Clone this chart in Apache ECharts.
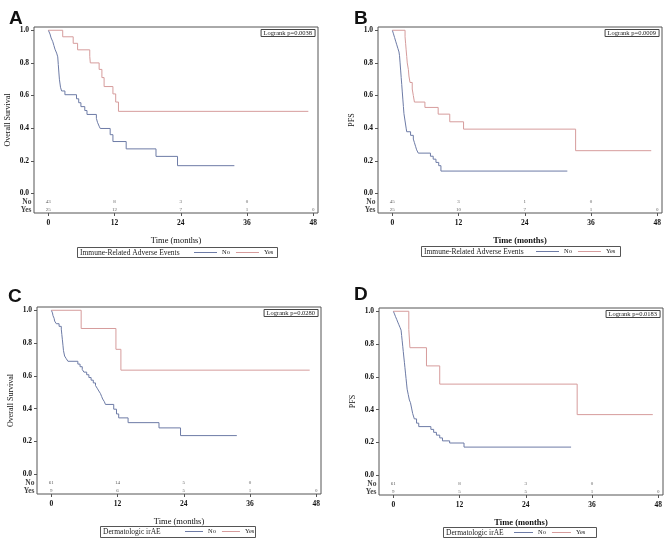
<!DOCTYPE html>
<html>
<head>
<meta charset="utf-8">
<script src="https://cdn.jsdelivr.net/npm/echarts@6/dist/echarts.min.js"></script>
<style>
  html, body { margin: 0; padding: 0; background: #fff; }
  #main { width: 666px; height: 540px; }
</style>
</head>
<body>
<div id="main"></div>
<script>
// KM curves: [months, survival]
var osIrae_no = [[0,1],[0.3,0.977],[0.5,0.953],[0.8,0.93],[1.0,0.907],[1.2,0.884],[1.5,0.86],[1.7,0.837],[1.8,0.79],[1.9,0.744],[2.0,0.70],[2.2,0.651],[2.4,0.628],[3.0,0.605],[5.1,0.58],[5.5,0.556],[5.9,0.532],[6.6,0.508],[7.0,0.484],[8.7,0.46],[8.9,0.436],[9.2,0.412],[9.4,0.398],[11.2,0.36],[11.7,0.318],[14.1,0.273],[19.5,0.227],[23.4,0.17],[33.7,0.17]];
var osIrae_yes = [[0,1],[2.6,0.96],[4.5,0.92],[5.3,0.88],[7.5,0.84],[7.6,0.80],[9.2,0.76],[9.7,0.71],[10.1,0.655],[11.7,0.61],[12.2,0.56],[12.7,0.503],[47.1,0.503]];
var pfsIrae_no = [[0,1],[0.2,0.978],[0.4,0.956],[0.6,0.933],[0.8,0.911],[1.0,0.889],[1.2,0.867],[1.3,0.844],[1.4,0.80],[1.5,0.756],[1.6,0.711],[1.7,0.667],[1.8,0.622],[1.9,0.578],[2.0,0.533],[2.1,0.489],[2.3,0.444],[2.5,0.40],[2.6,0.378],[3.3,0.356],[3.8,0.333],[4.0,0.311],[4.2,0.289],[4.4,0.267],[4.7,0.247],[6.9,0.228],[7.4,0.21],[7.9,0.19],[8.4,0.17],[8.8,0.137],[31.7,0.137]];
var pfsIrae_yes = [[0,1],[2.3,0.96],[2.4,0.92],[2.5,0.88],[2.6,0.84],[2.7,0.80],[2.9,0.76],[3.0,0.72],[3.2,0.68],[3.6,0.64],[3.8,0.60],[4.0,0.56],[5.9,0.527],[8.3,0.486],[10.4,0.439],[12.9,0.394],[33.2,0.262],[46.9,0.262]];
var osDerm_no = [[0,1],[0.2,0.984],[0.3,0.967],[0.5,0.951],[0.6,0.934],[0.9,0.918],[1.4,0.902],[1.8,0.885],[1.9,0.852],[2.0,0.82],[2.1,0.787],[2.2,0.754],[2.4,0.721],[2.7,0.705],[3.0,0.689],[4.8,0.672],[5.2,0.656],[5.6,0.639],[5.9,0.623],[6.4,0.607],[6.8,0.59],[7.2,0.574],[7.6,0.557],[8.0,0.541],[8.3,0.525],[8.6,0.508],[8.9,0.492],[9.1,0.475],[9.3,0.459],[9.6,0.443],[9.8,0.426],[11.3,0.397],[11.8,0.368],[12.2,0.344],[13.9,0.315],[19.5,0.283],[23.4,0.236],[33.6,0.236]];
var osDerm_yes = [[0,1],[5.4,0.889],[11.7,0.762],[12.6,0.635],[46.8,0.635]];
var pfsDerm_no = [[0,1],[0.2,0.984],[0.4,0.967],[0.6,0.951],[0.8,0.934],[1.0,0.918],[1.2,0.902],[1.4,0.885],[1.5,0.852],[1.6,0.82],[1.7,0.787],[1.8,0.754],[1.9,0.721],[2.0,0.689],[2.1,0.656],[2.2,0.623],[2.3,0.59],[2.4,0.557],[2.5,0.525],[2.7,0.492],[2.9,0.459],[3.1,0.443],[3.3,0.41],[3.5,0.377],[3.8,0.344],[4.2,0.318],[4.6,0.297],[6.8,0.28],[7.3,0.262],[7.8,0.245],[8.4,0.228],[8.9,0.21],[10.2,0.197],[12.8,0.172],[32.2,0.172]];
var pfsDerm_yes = [[0,1],[2.8,0.889],[3.0,0.778],[6.0,0.667],[8.4,0.556],[33.3,0.37],[47.0,0.37]];

// numbers at risk
var riskTimes = [0, 12, 24, 36, 48];
var riskA_no = [43, 8, 3, 0];
var riskA_yes = [25, 12, 7, 1, 0];
var riskB_no = [45, 3, 1, 0];
var riskB_yes = [25, 10, 7, 1, 0];
var riskC_no = [61, 14, 5, 0];
var riskC_yes = [9, 6, 5, 1, 0];
var riskD_no = [61, 8, 3, 0];
var riskD_yes = [9, 5, 5, 1, 0];

var xTicks = [0, 12, 24, 36, 48];
var yTicks = [0, 0.2, 0.4, 0.6, 0.8, 1.0];
var rowNo = -0.053, rowYes = -0.1;

var colorNo = '#6d7ba6';
var colorYes = '#d69c9c';
var serif = '"Liberation Serif", "DejaVu Serif", serif';

var panels = [
  { letter: 'A', yName: 'Overall Survival', p: 'Logrank p=0.0038', group: 'Immune-Related Adverse Events',
    no: osIrae_no, yes: osIrae_yes, rNo: riskA_no, rYes: riskA_yes, boldX: false,
    grid: [34, 27, 284, 186], letterPos: [9, 9], legBox: [77, 247, 200, 10], legLeft: 194, legItem: 23 },
  { letter: 'B', yName: 'PFS', p: 'Logrank p=0.0009', group: 'Immune-Related Adverse Events',
    no: pfsIrae_no, yes: pfsIrae_yes, rNo: riskB_no, rYes: riskB_yes, boldX: true,
    grid: [378, 27, 284, 186], letterPos: [354, 9], legBox: [421, 246, 199, 10], legLeft: 536, legItem: 23 },
  { letter: 'C', yName: 'Overall Survival', p: 'Logrank p=0.0280', group: 'Dermatologic irAE',
    no: osDerm_no, yes: osDerm_yes, rNo: riskC_no, rYes: riskC_yes, boldX: false,
    grid: [37, 307, 284, 187], letterPos: [8, 287], legBox: [100, 526, 155, 11], legLeft: 185, legItem: 18 },
  { letter: 'D', yName: 'PFS', p: 'Logrank p=0.0183', group: 'Dermatologic irAE',
    no: pfsDerm_no, yes: pfsDerm_yes, rNo: riskD_no, rYes: riskD_yes, boldX: true,
    grid: [379, 308, 284, 187], letterPos: [354, 285], legBox: [443, 527, 153, 10], legLeft: 514, legItem: 19 }
];

var grids = [], xAxes = [], yAxes = [], series = [], titles = [], legends = [], graphics = [];

panels.forEach(function (pn, i) {
  var g = pn.grid;
  grids.push({ left: g[0], top: g[1], width: g[2], height: g[3], show: true,
    borderColor: '#555', borderWidth: 1, backgroundColor: 'transparent' });

  xAxes.push({
    gridIndex: i, type: 'value', min: -2.6, max: 48.85,
    name: 'Time (months)', nameLocation: 'middle', nameGap: 23,
    nameTextStyle: { fontFamily: serif, fontSize: 8.5, fontWeight: pn.boldX ? 'bold' : 'normal', color: '#111' },
    axisLine: { show: false, onZero: false },
    axisTick: { show: true, length: 3, customValues: xTicks, lineStyle: { color: '#555' } },
    axisLabel: { customValues: xTicks, margin: 6, fontFamily: serif, fontSize: 7.5, fontWeight: 'bold', color: '#111' },
    splitLine: { show: false }
  });

  yAxes.push({
    gridIndex: i, type: 'value', min: -0.12, max: 1.02,
    name: pn.yName, nameLocation: 'middle', nameGap: 22,
    nameTextStyle: { fontFamily: serif, fontSize: 8, color: '#111' },
    axisLine: { show: false, onZero: false },
    axisTick: { show: true, length: 3, customValues: yTicks, lineStyle: { color: '#555' } },
    axisLabel: {
      customValues: yTicks, margin: 5,
      fontFamily: serif, fontSize: 7.5, fontWeight: 'bold', color: '#111',
      formatter: function (v) { return v.toFixed(1); }
    },
    splitLine: { show: false }
  });

  series.push({
    name: 'No', type: 'line', xAxisIndex: i, yAxisIndex: i, data: pn.no,
    step: 'end', symbol: 'none', lineStyle: { color: colorNo, width: 1 }, itemStyle: { color: colorNo },
    silent: true, animation: false
  });
  series.push({
    name: 'Yes', type: 'line', xAxisIndex: i, yAxisIndex: i, data: pn.yes,
    step: 'end', symbol: 'none', lineStyle: { color: colorYes, width: 1 }, itemStyle: { color: colorYes },
    silent: true, animation: false
  });

  // numbers at risk rows
  var riskData = [];
  pn.rNo.forEach(function (n, k) { riskData.push([riskTimes[k], rowNo, n]); });
  pn.rYes.forEach(function (n, k) { riskData.push([riskTimes[k], rowYes, n]); });
  series.push({
    type: 'scatter', xAxisIndex: i, yAxisIndex: i, data: riskData,
    symbolSize: 1, itemStyle: { color: 'transparent' }, silent: true, animation: false,
    label: { show: true, position: 'inside', fontFamily: serif, fontSize: 5, color: '#333',
      formatter: function (d) { return String(d.value[2]); } }
  });
  // row labels for the at-risk table, left of the frame
  series.push({
    type: 'scatter', xAxisIndex: i, yAxisIndex: i, data: [[-2.6, rowNo, 'No'], [-2.6, rowYes, 'Yes']],
    symbolSize: 1, itemStyle: { color: 'transparent' }, silent: true, animation: false, clip: false,
    label: { show: true, position: 'left', distance: 2, fontFamily: serif, fontSize: 7.5, fontWeight: 'bold', color: '#111',
      formatter: function (d) { return d.value[2]; } }
  });

  titles.push({ text: pn.letter, left: pn.letterPos[0], top: pn.letterPos[1], padding: 0,
    textStyle: { fontFamily: 'Liberation Sans, Arial, sans-serif', fontSize: 19, fontWeight: 'bold', color: '#111' } });
  titles.push({ text: pn.p, right: 666 - (g[0] + g[2]) + 3, top: g[1] + 2, padding: [1, 3, 0, 3],
    borderColor: '#444', borderWidth: 1,
    textStyle: { fontFamily: serif, fontSize: 6.5, fontWeight: 'normal', color: '#222' } });

  var lb = pn.legBox;
  graphics.push({ type: 'rect', shape: { x: lb[0] + 0.5, y: lb[1] + 0.5, width: lb[2], height: lb[3] },
    style: { fill: '#fff', stroke: '#555', lineWidth: 1 }, z: 0 });
  graphics.push({ type: 'text', x: lb[0] + 3, y: lb[1] + lb[3] / 2 + 1,
    style: { text: pn.group, font: '7.5px ' + serif, fill: '#222', verticalAlign: 'middle' }, z: 1 });
  legends.push({ data: ['No', 'Yes'], left: pn.legLeft, top: lb[1] + 1, padding: 0,
    icon: 'rect', itemWidth: pn.legItem, itemHeight: 1, itemGap: 6, selectedMode: false,
    textStyle: { fontFamily: serif, fontSize: 6.5, color: '#222', lineHeight: 9 } });
});

var chart = echarts.init(document.getElementById('main'), null, { renderer: 'canvas' });
chart.setOption({
  animation: false,
  backgroundColor: '#fff',
  title: titles,
  legend: legends,
  grid: grids,
  xAxis: xAxes,
  yAxis: yAxes,
  series: series,
  graphic: { elements: graphics }
});
</script>
</body>
</html>
